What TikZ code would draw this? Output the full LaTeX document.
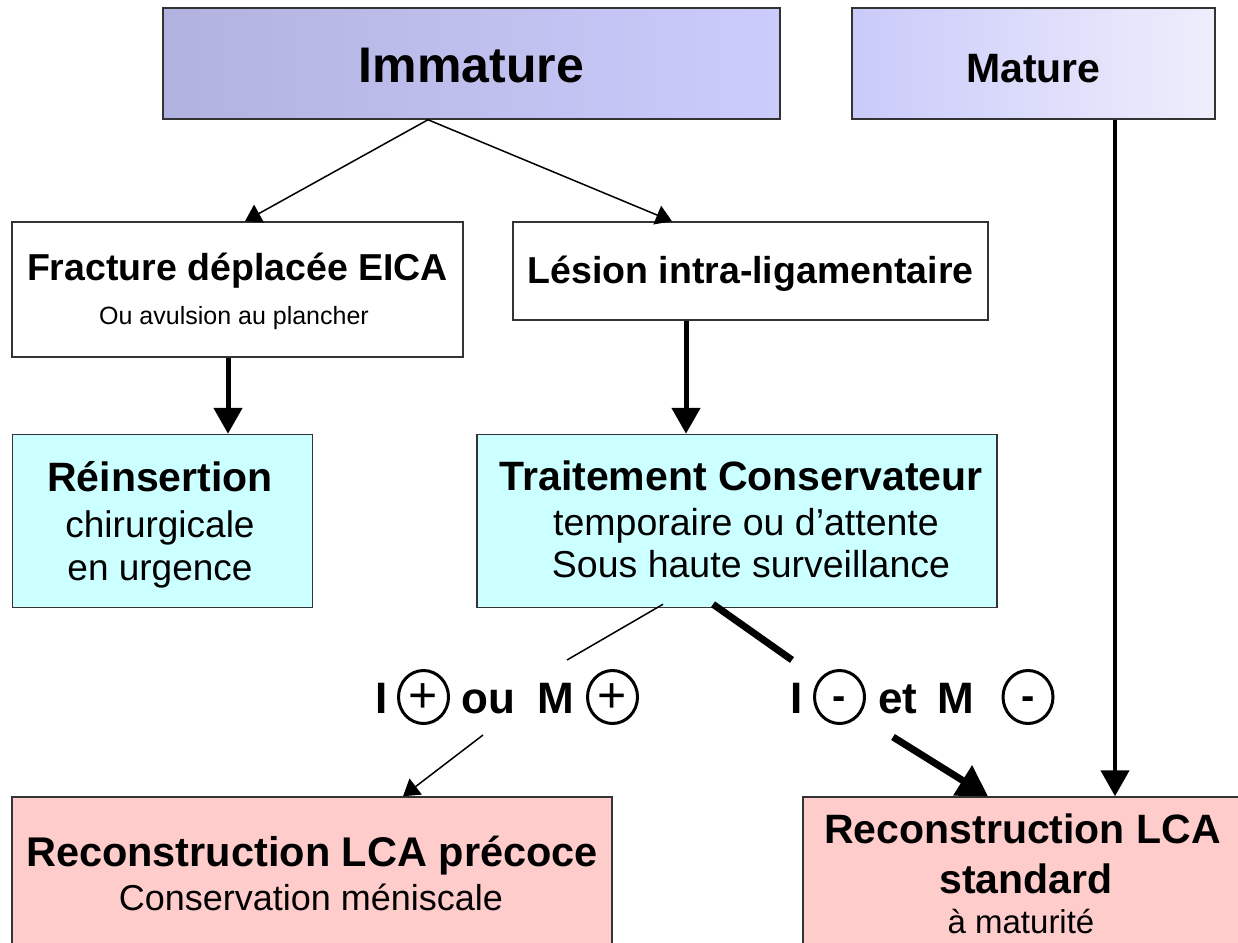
\documentclass[tikz,border=0pt]{standalone}
\usepackage{fontspec}
\setmainfont{Liberation Sans}
\usetikzlibrary{arrows.meta,shapes.geometric}
\definecolor{immL}{HTML}{B2B2E0}
\definecolor{immR}{HTML}{CCCCFC}
\definecolor{matL}{HTML}{CACAFA}
\definecolor{matR}{HTML}{EEEEFC}
\definecolor{cyanbox}{HTML}{CCFFFF}
\definecolor{pinkbox}{HTML}{FFCCCC}
\definecolor{edgegray}{HTML}{333333}
\newcommand\setfs[1]{\fontsize{#1}{#1}\selectfont}
\begin{document}
\begin{tikzpicture}[x=1pt,y=-1pt,
  box/.style={draw=edgegray, line width=1.5pt, rectangle, inner sep=0pt},
  txt/.style={anchor=base, inner sep=0pt, text=black},
  lbl/.style={anchor=base west, inner sep=0pt, text=black, font=\setfs{44}\bfseries},
  sign/.style={draw=black, line width=3pt, ellipse, minimum width=50pt, minimum height=53pt, inner sep=0pt},
  plus/.style={anchor=base, inner sep=0pt, text=black, font=\setfs{50}},
  minus/.style={anchor=base, inner sep=0pt, text=black, font=\setfs{40}\bfseries},
  thinarrow/.style={line width=1.5pt, -{Triangle[length=16pt,width=20pt]}},
  thickarrow/.style={line width=5pt, -{Triangle[length=26pt,width=28pt]}},
  thinline/.style={line width=1.5pt},
  boldline/.style={line width=7pt},
  boldarrow/.style={line width=7pt, -{Triangle[length=30pt,width=34pt]}}
]
\useasboundingbox (0,0) rectangle (1238,942);
\clip (0,0) rectangle (1238,942);

% boxes
\node[box, minimum width=617pt, minimum height=111pt, left color=immL, right color=immR] (imm) at (471.5,63.5) {};
\node[box, minimum width=363pt, minimum height=111pt, left color=matL, right color=matR] (mat) at (1033.5,63.5) {};
\node[box, minimum width=451pt, minimum height=135pt, fill=white] (frac) at (237.5,289.5) {};
\node[box, minimum width=475pt, minimum height=98pt, fill=white] (les) at (750.5,271) {};
\node[box, minimum width=300pt, minimum height=173pt, fill=cyanbox] (rein) at (162.5,521) {};
\node[box, minimum width=520pt, minimum height=173pt, fill=cyanbox] (trait) at (737,521) {};
\node[box, minimum width=600pt, minimum height=200pt, fill=pinkbox] (recp) at (312,897) {};
\node[box, minimum width=460pt, minimum height=200pt, fill=pinkbox] (recs) at (1033,897) {};

% texts
\node[txt, font=\setfs{50}\bfseries] (timm) at (471.5,82) {Immature};
\node[txt, font=\setfs{41}\bfseries] (tmat) at (1033.5,82) {Mature};
\node[txt, font=\setfs{37.5}\bfseries] (tfrac) at (237.5,280) {Fracture déplacée EICA};
\node[txt, font=\setfs{25}] (tfrac2) at (234,324) {Ou avulsion au plancher};
\node[txt, font=\setfs{37.5}\bfseries] (tles) at (750.5,283) {Lésion intra-ligamentaire};
\node[txt, font=\setfs{41}\bfseries] (trein) at (160,491) {Réinsertion};
\node[txt, font=\setfs{37}] (trein2) at (160,537) {chirurgicale};
\node[txt, font=\setfs{37}] (trein3) at (160,580) {en urgence};
\node[txt, font=\setfs{41}\bfseries] (ttrait) at (741,490) {Traitement Conservateur};
\node[txt, font=\setfs{37.5}] (ttrait2) at (746,535) {temporaire ou d’attente};
\node[txt, font=\setfs{37.5}] (ttrait3) at (751,577) {Sous haute surveillance};
\node[txt, font=\setfs{41.5}\bfseries] (trecp) at (312,866) {Reconstruction LCA précoce};
\node[txt, font=\setfs{36}] (trecp2) at (311,910) {Conservation méniscale};
\node[txt, font=\setfs{41}\bfseries] (trecs) at (1022.5,843) {Reconstruction LCA};
\node[txt, font=\setfs{41}\bfseries] (trecs2) at (1026,893) {standard};
\node[txt, font=\setfs{33}] (trecs3) at (1021,933) {à maturité};

% condition labels
\node[lbl] (lI1) at (375,713) {I};
\node[sign] (s1) at (423.5,697) {};
\node[plus] (p1) at (423.5,712) {+};
\node[lbl] (lou) at (461,713) {ou};
\node[lbl] (lM1) at (537,713) {M};
\node[sign] (s2) at (612.5,697) {};
\node[plus] (p2) at (612.5,712) {+};

\node[lbl] (lI2) at (790,713) {I};
\node[sign] (s3) at (839.5,697) {};
\node[minus] (m1) at (839.5,709) {-};
\node[lbl] (let) at (878,713) {et};
\node[lbl] (lM2) at (937,713) {M};
\node[sign] (s4) at (1028,697) {};
\node[minus] (m2) at (1028,709) {-};

% connectors
\draw[thinarrow] ([xshift=-43.5pt]imm.south) -- ([xshift=7.5pt]frac.north);
\draw[thinarrow] ([xshift=-43.5pt]imm.south) -- ([xshift=-78.5pt]les.north);
\draw[thickarrow] ([xshift=-9.5pt]frac.south) -- ([xshift=65.5pt]rein.north);
\draw[thickarrow] ([xshift=-64.5pt]les.south) -- ([xshift=-51pt]trait.north);
\draw[line width=4.5pt, -{Triangle[length=26pt,width=28pt]}] ([xshift=81.5pt]mat.south) -- ([xshift=82pt]recs.north);

\coordinate (c1) at (567,660);
\coordinate (c2) at (792,660);
\coordinate (c3) at (483,735);
\coordinate (c4) at (893,737);
\draw[thinline] ([xshift=-74pt,yshift=4pt]trait.south) -- (c1);
\draw[boldline] ([xshift=-24pt,yshift=4pt]trait.south) -- (c2);
\draw[thinarrow] (c3) -- ([xshift=91pt]recp.north);
\draw[boldarrow] (c4) -- ([xshift=-45pt]recs.north);
\end{tikzpicture}
\end{document}
